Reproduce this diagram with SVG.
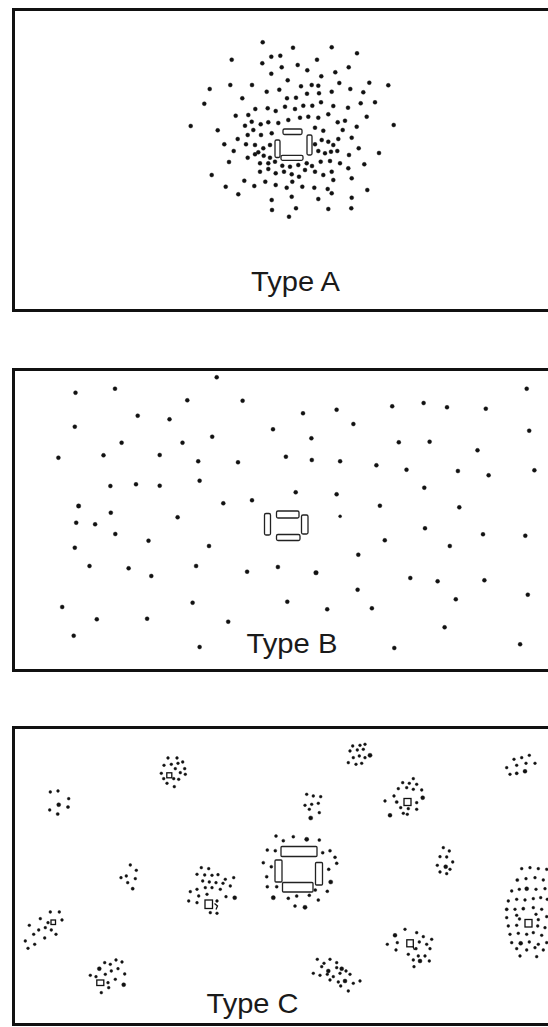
<svg xmlns="http://www.w3.org/2000/svg" width="548" height="1027" viewBox="0 0 548 1027">
<style>
.frame{fill:#fff;stroke:#111;stroke-width:3}
.lbl{font-family:"Liberation Sans",Arial,Helvetica,sans-serif;font-size:28px;fill:#1a1a1a}
.d circle{fill:#111;stroke:#111;stroke-width:0.4}
.dev rect{fill:#fff;stroke:#222;stroke-width:1.3}
.sq{fill:none;stroke:#111;stroke-width:1.3}
</style>
<rect width="548" height="1027" fill="#fff"/>

<g id="panelA">
<rect class="frame" x="13.5" y="9.5" width="560" height="301"/>
<g class="d">
<circle cx="262.7" cy="42.3" r="2"/><circle cx="293" cy="47.7" r="2"/><circle cx="331.7" cy="47.3" r="2"/><circle cx="357" cy="53.3" r="2"/>
<circle cx="231.7" cy="59.7" r="2"/><circle cx="271.3" cy="56.7" r="2"/><circle cx="280.3" cy="55.7" r="2"/><circle cx="262.3" cy="63.3" r="2"/>
<circle cx="317" cy="59.7" r="2"/><circle cx="281.7" cy="67.3" r="2"/><circle cx="297.7" cy="65" r="2"/><circle cx="307.3" cy="70.3" r="2"/>
<circle cx="348.7" cy="67.3" r="2"/><circle cx="271.3" cy="73.7" r="2"/><circle cx="335.3" cy="72.3" r="2"/><circle cx="321.3" cy="76.3" r="2"/>
<circle cx="287.7" cy="80.3" r="2"/><circle cx="209.7" cy="89" r="2"/><circle cx="230.3" cy="85" r="2"/><circle cx="252" cy="85" r="2"/>
<circle cx="266.7" cy="91.7" r="2"/><circle cx="279.3" cy="89.7" r="2"/><circle cx="301" cy="86.3" r="2"/><circle cx="311.7" cy="85" r="2"/>
<circle cx="318.3" cy="85.7" r="2"/><circle cx="339.3" cy="83" r="2"/><circle cx="350.3" cy="89" r="2"/><circle cx="363.3" cy="92.3" r="2"/>
<circle cx="369.3" cy="82.7" r="2"/><circle cx="388.3" cy="85.3" r="2"/><circle cx="204.3" cy="103.7" r="2"/><circle cx="242.3" cy="98.3" r="2"/>
<circle cx="287" cy="98.3" r="2"/><circle cx="296" cy="97.7" r="2"/><circle cx="307" cy="93.7" r="2"/><circle cx="319" cy="93.3" r="2"/>
<circle cx="331.7" cy="91.7" r="2"/><circle cx="360.7" cy="103.3" r="2"/><circle cx="375" cy="102.3" r="2"/><circle cx="235.7" cy="115.7" r="2"/>
<circle cx="248.3" cy="115" r="2"/><circle cx="255.3" cy="109" r="2"/><circle cx="267.7" cy="108.3" r="2"/><circle cx="275.7" cy="111" r="2"/>
<circle cx="285" cy="106.7" r="2"/><circle cx="295" cy="109" r="2"/><circle cx="303.3" cy="105.7" r="2"/><circle cx="312.3" cy="105.7" r="2"/>
<circle cx="321" cy="102.3" r="2"/><circle cx="333.3" cy="106" r="2"/><circle cx="348" cy="107.7" r="2"/><circle cx="366.7" cy="116.7" r="2"/>
<circle cx="190.7" cy="126" r="2"/><circle cx="217.7" cy="130.3" r="2"/><circle cx="245" cy="125.7" r="2"/><circle cx="251.7" cy="121.7" r="2"/>
<circle cx="260.7" cy="124.3" r="2"/><circle cx="268.3" cy="122.3" r="2"/><circle cx="278.3" cy="123" r="2"/><circle cx="288.3" cy="120" r="2"/>
<circle cx="300" cy="117.7" r="2"/><circle cx="308.3" cy="116.7" r="2"/><circle cx="318.3" cy="117.7" r="2"/><circle cx="328.3" cy="114.3" r="2"/>
<circle cx="337.7" cy="122.3" r="2"/><circle cx="345" cy="120.7" r="2"/><circle cx="356.7" cy="126.7" r="2"/><circle cx="393.7" cy="125" r="2"/>
<circle cx="224.3" cy="144.3" r="2"/><circle cx="237.7" cy="139" r="2"/><circle cx="247.7" cy="135" r="2"/><circle cx="253.3" cy="130" r="2"/>
<circle cx="261" cy="135" r="2"/><circle cx="271.7" cy="133.3" r="2"/><circle cx="315" cy="127.7" r="2"/><circle cx="323.3" cy="130.7" r="2"/>
<circle cx="342.7" cy="130" r="2"/><circle cx="351.7" cy="137.7" r="2"/><circle cx="233.7" cy="151" r="2"/><circle cx="246" cy="144.3" r="2"/>
<circle cx="255" cy="145" r="2"/><circle cx="263.3" cy="148.3" r="2"/><circle cx="258.3" cy="152.3" r="2"/><circle cx="270" cy="145" r="2"/>
<circle cx="315" cy="144.3" r="2"/><circle cx="321.7" cy="140" r="2"/><circle cx="328.3" cy="141.7" r="2"/><circle cx="333.3" cy="145" r="2"/>
<circle cx="338.3" cy="139" r="2"/><circle cx="229" cy="162" r="2"/><circle cx="247.7" cy="157.7" r="2"/><circle cx="255" cy="154.3" r="2"/>
<circle cx="263.7" cy="155.7" r="2"/><circle cx="270" cy="157.7" r="2"/><circle cx="318.3" cy="151" r="2"/><circle cx="325" cy="153.3" r="2"/>
<circle cx="331" cy="151.7" r="2"/><circle cx="337.3" cy="151" r="2"/><circle cx="349" cy="155" r="2"/><circle cx="358.7" cy="148.3" r="2"/>
<circle cx="379" cy="153" r="2"/><circle cx="260" cy="163.3" r="2"/><circle cx="268.3" cy="163.3" r="2"/><circle cx="275" cy="161.7" r="2"/>
<circle cx="282.3" cy="165.7" r="2"/><circle cx="290" cy="166.7" r="2"/><circle cx="298.3" cy="165" r="2"/><circle cx="306.7" cy="163.3" r="2"/>
<circle cx="312" cy="166" r="2"/><circle cx="320.7" cy="161.7" r="2"/><circle cx="330" cy="161" r="2"/><circle cx="340" cy="163.3" r="2"/>
<circle cx="348.3" cy="168.3" r="2"/><circle cx="364.3" cy="164.3" r="2"/><circle cx="211.7" cy="175" r="2"/><circle cx="260" cy="171.7" r="2"/>
<circle cx="268.3" cy="169" r="2"/><circle cx="275.7" cy="173.3" r="2"/><circle cx="284" cy="171.7" r="2"/><circle cx="291.7" cy="174.3" r="2"/>
<circle cx="299" cy="176.7" r="2"/><circle cx="305" cy="170" r="2"/><circle cx="315" cy="171.7" r="2"/><circle cx="323.3" cy="175" r="2"/>
<circle cx="331.7" cy="171.7" r="2"/><circle cx="225.7" cy="186.7" r="2"/><circle cx="244.3" cy="180.7" r="2"/><circle cx="254.3" cy="186" r="2"/>
<circle cx="265.3" cy="181.7" r="2"/><circle cx="275.7" cy="185" r="2"/><circle cx="286.7" cy="187.7" r="2"/><circle cx="292.3" cy="181.7" r="2"/>
<circle cx="302.3" cy="186.7" r="2"/><circle cx="314.3" cy="187.7" r="2"/><circle cx="327.7" cy="189" r="2"/><circle cx="333.3" cy="180" r="2"/>
<circle cx="351.7" cy="178.3" r="2"/><circle cx="238.3" cy="194.3" r="2"/><circle cx="271.7" cy="200" r="2"/><circle cx="291.7" cy="196.7" r="2"/>
<circle cx="318.3" cy="199" r="2"/><circle cx="331.7" cy="193.3" r="2"/><circle cx="351.7" cy="197.7" r="2"/><circle cx="367.3" cy="190" r="2"/>
<circle cx="272" cy="210" r="2"/><circle cx="296" cy="208.3" r="2"/><circle cx="328.3" cy="209" r="2"/><circle cx="351.3" cy="208.3" r="2"/>
<circle cx="289" cy="216.7" r="2"/>
</g>
<g id="deviceA" class="dev">
<rect x="283" y="129" width="19" height="5.5" rx="1.5"/>
<rect x="275" y="140" width="5" height="17.5" rx="1.5"/>
<rect x="307" y="135" width="5" height="20" rx="1.5"/>
<rect x="281" y="155.3" width="22" height="5" rx="1.5"/>
</g>
<text class="lbl" x="251" y="291" textLength="89" lengthAdjust="spacingAndGlyphs">Type A</text>
</g>

<g id="panelB">
<rect class="frame" x="13.5" y="369.5" width="560" height="301"/>
<g class="d">
<circle cx="75.5" cy="392.7" r="2"/><circle cx="115" cy="388.7" r="2"/><circle cx="216.7" cy="377.3" r="2"/><circle cx="187.3" cy="400.3" r="2"/>
<circle cx="242.6" cy="400.7" r="2"/><circle cx="137.7" cy="415.7" r="2"/><circle cx="169.5" cy="419.3" r="2"/><circle cx="303" cy="413.3" r="2"/>
<circle cx="336.6" cy="409.7" r="2"/><circle cx="392.2" cy="406.3" r="2"/><circle cx="423.6" cy="403" r="2"/><circle cx="447" cy="407.3" r="2"/>
<circle cx="485.8" cy="408.7" r="2"/><circle cx="526.7" cy="388.7" r="2"/><circle cx="74.8" cy="426.7" r="2"/><circle cx="273" cy="429.3" r="2"/>
<circle cx="353.4" cy="424" r="2"/><circle cx="212.2" cy="436.7" r="2"/><circle cx="311.4" cy="438.3" r="2"/><circle cx="529.2" cy="430.7" r="2"/>
<circle cx="121.6" cy="442.7" r="2"/><circle cx="182.5" cy="442.7" r="2"/><circle cx="398.8" cy="442.3" r="2"/><circle cx="429.6" cy="441.7" r="2"/>
<circle cx="477.5" cy="450.3" r="2"/><circle cx="58.4" cy="457.7" r="2"/><circle cx="103.5" cy="455.3" r="2"/><circle cx="159.7" cy="455" r="2"/>
<circle cx="198.2" cy="461.3" r="2"/><circle cx="238" cy="462.3" r="2"/><circle cx="285.9" cy="456.7" r="2"/><circle cx="311.8" cy="460" r="2"/>
<circle cx="340.1" cy="461.3" r="2"/><circle cx="376.4" cy="465.3" r="2"/><circle cx="406.5" cy="469.7" r="2"/><circle cx="457.9" cy="471" r="2"/>
<circle cx="488.6" cy="475.3" r="2"/><circle cx="534.4" cy="470.3" r="2"/><circle cx="110.4" cy="486" r="2"/><circle cx="136" cy="484.3" r="2"/>
<circle cx="159.7" cy="485.7" r="2"/><circle cx="199.6" cy="480.7" r="2"/><circle cx="424.3" cy="487.7" r="2"/><circle cx="295.7" cy="492.3" r="2"/>
<circle cx="336.6" cy="494.3" r="2"/><circle cx="223.3" cy="503.3" r="2"/><circle cx="252" cy="500.3" r="2"/><circle cx="379.9" cy="505.7" r="2"/>
<circle cx="459.3" cy="507.3" r="2"/><circle cx="78.6" cy="506" r="2.2"/><circle cx="110.8" cy="512.7" r="2"/><circle cx="76.2" cy="522.7" r="2"/>
<circle cx="95.1" cy="524.3" r="2"/><circle cx="177.6" cy="517.3" r="2"/><circle cx="340.1" cy="516.3" r="1.5"/><circle cx="425" cy="528.3" r="2"/>
<circle cx="483" cy="534.3" r="2"/><circle cx="525.3" cy="535.7" r="2"/><circle cx="115.3" cy="534" r="2"/><circle cx="148.5" cy="540.7" r="2"/>
<circle cx="74.8" cy="547.7" r="2"/><circle cx="209" cy="546" r="2"/><circle cx="384.8" cy="540.3" r="2"/><circle cx="449.8" cy="546" r="2"/>
<circle cx="358.3" cy="554.7" r="2"/><circle cx="89.5" cy="566" r="2"/><circle cx="128.6" cy="568.3" r="2"/><circle cx="151.3" cy="576" r="2"/>
<circle cx="196.1" cy="566" r="2"/><circle cx="247.1" cy="571.7" r="2"/><circle cx="277.9" cy="567" r="2"/><circle cx="316" cy="572.7" r="2.3"/>
<circle cx="410.3" cy="578" r="2"/><circle cx="437.6" cy="581.3" r="2"/><circle cx="484.4" cy="580.3" r="2"/><circle cx="357.6" cy="589.7" r="2"/>
<circle cx="455.8" cy="599.3" r="2"/><circle cx="527.8" cy="594.7" r="2"/><circle cx="62.2" cy="607" r="2"/><circle cx="192.6" cy="602.7" r="2"/>
<circle cx="287.3" cy="601.7" r="2"/><circle cx="327.2" cy="609.3" r="2"/><circle cx="371.9" cy="608.3" r="2"/><circle cx="96.8" cy="619.3" r="2"/>
<circle cx="147.1" cy="618.7" r="2"/><circle cx="228.2" cy="621.7" r="2"/><circle cx="444.6" cy="627.3" r="2"/><circle cx="73.7" cy="635.7" r="2"/>
<circle cx="199.6" cy="647" r="2"/><circle cx="394.3" cy="648" r="2"/><circle cx="520.1" cy="644.3" r="2"/>
</g>
<g id="deviceB" class="dev">
<rect x="276.5" y="511" width="22.5" height="7" rx="1.5"/>
<rect x="264.5" y="513.5" width="6" height="21.5" rx="1.5"/>
<rect x="301.5" y="515" width="6.5" height="19" rx="1.5"/>
<rect x="276.5" y="534.5" width="23.5" height="6" rx="1.5"/>
</g>
<text class="lbl" x="246.5" y="653" textLength="91" lengthAdjust="spacingAndGlyphs">Type B</text>
</g>

<g id="panelC">
<rect class="frame" x="13.5" y="727.5" width="560" height="297"/>
<g id="clusterC1" class="d">
<circle cx="168" cy="758" r="1.4"/><circle cx="177" cy="758" r="1.4"/><circle cx="164" cy="765.3" r="1.4"/><circle cx="171.3" cy="764.3" r="1.4"/>
<circle cx="178" cy="763.3" r="1.4"/><circle cx="182.7" cy="762" r="1.4"/><circle cx="184.7" cy="768.7" r="1.4"/><circle cx="161.3" cy="773.3" r="1.4"/>
<circle cx="175.3" cy="768.7" r="1.4"/><circle cx="180.3" cy="772.7" r="1.4"/><circle cx="185.3" cy="774.3" r="1.4"/><circle cx="163.7" cy="778.7" r="1.4"/>
<circle cx="173.7" cy="778.7" r="1.4"/><circle cx="178.7" cy="779.3" r="1.4"/><circle cx="167" cy="783.3" r="1.4"/><circle cx="174.3" cy="786.7" r="1.4"/>
<rect class="sq" x="166.8" y="772.8" width="5" height="5"/>
</g>
<g id="clusterC2" class="d">
<circle cx="50.3" cy="792" r="1.4"/><circle cx="58" cy="791" r="1.4"/><circle cx="68.7" cy="798.7" r="1.4"/><circle cx="58.7" cy="804.7" r="2"/>
<circle cx="68" cy="807" r="1.6"/><circle cx="49.7" cy="810" r="1.4"/><circle cx="57.7" cy="814" r="1.6"/>
</g>
<g id="clusterC3" class="d">
<circle cx="130.3" cy="865" r="1.4"/><circle cx="136.3" cy="870.3" r="1.4"/><circle cx="121" cy="877.7" r="1.4"/><circle cx="126.3" cy="876" r="1.4"/>
<circle cx="135.3" cy="878.7" r="1.4"/><circle cx="127.7" cy="882.7" r="1.4"/><circle cx="132.7" cy="888.7" r="1.6"/>
</g>
<g id="clusterC4" class="d">
<circle cx="50.3" cy="912" r="1.4"/><circle cx="59.3" cy="912" r="1.4"/><circle cx="40.3" cy="918.7" r="1.4"/><circle cx="48" cy="922.7" r="1.4"/>
<circle cx="62" cy="920" r="1.4"/><circle cx="29.3" cy="925.3" r="1.4"/><circle cx="38.7" cy="930" r="1.4"/><circle cx="45.3" cy="927.7" r="1.4"/>
<circle cx="51.3" cy="930" r="1.4"/><circle cx="56" cy="934.3" r="1.4"/><circle cx="33.7" cy="934.3" r="1.4"/><circle cx="25.3" cy="941" r="1.4"/>
<circle cx="34.7" cy="944.3" r="1.4"/><circle cx="44.7" cy="938" r="1.4"/><circle cx="28" cy="948.3" r="1.4"/>
<rect class="sq" x="51" y="920" width="4.5" height="4.5"/>
</g>
<g id="clusterC5" class="d">
<circle cx="116" cy="960" r="1.4"/><circle cx="122" cy="962" r="1.4"/><circle cx="104.7" cy="962.7" r="1.4"/><circle cx="110.3" cy="964.3" r="1.4"/>
<circle cx="99.3" cy="968.7" r="2"/><circle cx="118" cy="968.7" r="1.4"/><circle cx="124.7" cy="974" r="1.4"/><circle cx="111.3" cy="971" r="1.4"/>
<circle cx="105.3" cy="974.3" r="1.4"/><circle cx="90.3" cy="975.3" r="1.4"/><circle cx="96" cy="976.7" r="1.4"/><circle cx="115.3" cy="979.3" r="1.4"/>
<circle cx="108" cy="982.7" r="1.4"/><circle cx="123.7" cy="984.7" r="2"/><circle cx="108.7" cy="987.7" r="1.4"/><circle cx="101.3" cy="992.7" r="1.4"/>
<rect class="sq" x="96.8" y="980" width="7" height="5.5"/>
</g>
<g id="clusterC6" class="d">
<circle cx="201.3" cy="867.7" r="1.4"/><circle cx="208.7" cy="868.7" r="1.4"/><circle cx="197" cy="874.3" r="1.4"/><circle cx="204.7" cy="875" r="1.4"/>
<circle cx="212" cy="875.3" r="1.4"/><circle cx="218" cy="874.7" r="1.4"/><circle cx="225.3" cy="879.3" r="1.4"/><circle cx="233.7" cy="877.7" r="1.4"/>
<circle cx="202.7" cy="881" r="1.4"/><circle cx="209.3" cy="882" r="1.4"/><circle cx="216" cy="882.7" r="1.4"/><circle cx="223" cy="883.3" r="1.4"/>
<circle cx="197" cy="889.3" r="1.4"/><circle cx="205.3" cy="887.7" r="1.4"/><circle cx="212" cy="887.7" r="1.4"/><circle cx="220.3" cy="889.3" r="1.4"/>
<circle cx="230.3" cy="886" r="1.4"/><circle cx="190.3" cy="891.7" r="1.4"/><circle cx="198.7" cy="896" r="1.4"/><circle cx="207" cy="894.3" r="1.4"/>
<circle cx="226" cy="896.7" r="1.4"/><circle cx="234.7" cy="897.7" r="2"/><circle cx="188.7" cy="901" r="1.4"/><circle cx="197" cy="902.7" r="1.4"/>
<circle cx="217" cy="901" r="1.4"/><circle cx="210.3" cy="912.7" r="1.4"/><circle cx="217" cy="913.3" r="1.4"/>
<rect class="sq" x="205" y="900" width="7.5" height="8.5"/>
<path class="sq" d="M214.5 903.5 L217.5 906 L216 909.5"/>
</g>
<g id="clusterC7" class="d">
<circle cx="276" cy="836" r="1.5"/><circle cx="283.3" cy="840.7" r="1.5"/><circle cx="293.3" cy="836.7" r="1.5"/><circle cx="306.7" cy="839.3" r="2.1"/>
<circle cx="319.3" cy="840" r="1.5"/><circle cx="267.3" cy="850" r="1.5"/><circle cx="275.3" cy="850.7" r="1.5"/><circle cx="322.7" cy="852.7" r="1.5"/>
<circle cx="330" cy="850.7" r="1.5"/><circle cx="335" cy="857.3" r="1.5"/><circle cx="263.3" cy="862.7" r="1.5"/><circle cx="271.3" cy="866.7" r="1.5"/>
<circle cx="328.7" cy="869.3" r="1.5"/><circle cx="336.7" cy="863.3" r="1.5"/><circle cx="266.7" cy="876.7" r="1.5"/><circle cx="276.7" cy="876" r="1.5"/>
<circle cx="330.7" cy="882" r="2.1"/><circle cx="267.3" cy="886.7" r="1.5"/><circle cx="276.7" cy="886.7" r="1.5"/><circle cx="327.3" cy="891.3" r="1.5"/>
<circle cx="315.3" cy="890" r="1.5"/><circle cx="273.3" cy="897.7" r="2.1"/><circle cx="288.3" cy="898.3" r="1.5"/><circle cx="296.7" cy="896" r="1.5"/>
<circle cx="309.3" cy="895.3" r="1.5"/><circle cx="318.3" cy="900" r="1.5"/><circle cx="295" cy="906" r="1.5"/><circle cx="305" cy="907.3" r="2.1"/>
</g>
<g id="deviceC" class="dev">
<rect x="281" y="846.5" width="36" height="10" rx="1"/>
<rect x="275" y="860" width="7" height="22" rx="1"/>
<rect x="315.5" y="862.5" width="7" height="22.5" rx="1"/>
<rect x="282.5" y="882.5" width="30.5" height="9.5" rx="1"/>
</g>
<g id="clusterC8" class="d">
<circle cx="352.7" cy="746" r="1.4"/><circle cx="360" cy="745.3" r="1.4"/><circle cx="365" cy="744.3" r="1.4"/><circle cx="350" cy="751" r="1.4"/>
<circle cx="357.3" cy="750" r="1.4"/><circle cx="363.3" cy="749.3" r="1.4"/><circle cx="370" cy="755.3" r="2.1"/><circle cx="353.3" cy="757.7" r="1.4"/>
<circle cx="359.3" cy="756" r="1.4"/><circle cx="365" cy="757.7" r="1.4"/><circle cx="348.3" cy="762.7" r="1.4"/><circle cx="356" cy="764.3" r="1.4"/>
<circle cx="361.7" cy="763.3" r="1.4"/>
</g>
<g id="clusterC9" class="d">
<circle cx="306.7" cy="794.3" r="1.4"/><circle cx="313.3" cy="796" r="1.4"/><circle cx="320.7" cy="796.7" r="1.4"/><circle cx="305" cy="805.3" r="1.4"/>
<circle cx="311.7" cy="804.3" r="1.4"/><circle cx="318.3" cy="803.3" r="1.4"/><circle cx="309.3" cy="809.3" r="1.4"/><circle cx="319.3" cy="812.7" r="1.4"/>
<circle cx="310.7" cy="818" r="2.1"/>
</g>
<g id="clusterC10" class="d">
<circle cx="413.3" cy="778.7" r="1.4"/><circle cx="402.7" cy="782.7" r="1.4"/><circle cx="409.3" cy="783.3" r="1.4"/><circle cx="416.7" cy="784.3" r="1.4"/>
<circle cx="398.3" cy="788.7" r="1.4"/><circle cx="406.7" cy="787.7" r="1.4"/><circle cx="413.3" cy="789.3" r="1.4"/><circle cx="421.7" cy="790" r="1.4"/>
<circle cx="394" cy="796" r="1.4"/><circle cx="422.7" cy="797.7" r="2"/><circle cx="385" cy="801" r="1.4"/><circle cx="396.7" cy="802" r="1.6"/>
<circle cx="416.7" cy="802.7" r="1.4"/><circle cx="400.7" cy="807.7" r="1.4"/><circle cx="408.3" cy="808.7" r="1.4"/><circle cx="416.7" cy="809.3" r="1.4"/>
<circle cx="390" cy="815.3" r="2"/><circle cx="403.3" cy="813.3" r="1.4"/><circle cx="407.3" cy="814.3" r="1.4"/>
<rect class="sq" x="404" y="798.5" width="7" height="7"/>
</g>
<g id="clusterC11" class="d">
<circle cx="514" cy="759.3" r="1.4"/><circle cx="521.7" cy="757.7" r="1.4"/><circle cx="529.3" cy="755.3" r="1.4"/><circle cx="506.7" cy="767.7" r="1.4"/>
<circle cx="516.7" cy="765.3" r="1.4"/><circle cx="526" cy="763.3" r="1.4"/><circle cx="535" cy="763.3" r="1.4"/><circle cx="510" cy="774.3" r="1.4"/>
<circle cx="516.7" cy="773.3" r="1.6"/><circle cx="525" cy="771.3" r="2"/>
</g>
<g id="clusterC12" class="d">
<circle cx="443.3" cy="847.7" r="1.4"/><circle cx="449.3" cy="851" r="1.4"/><circle cx="440" cy="856.7" r="1.4"/><circle cx="446.7" cy="857" r="1.4"/>
<circle cx="452.7" cy="862" r="1.4"/><circle cx="437.3" cy="865.3" r="1.4"/><circle cx="445.7" cy="866.7" r="2"/><circle cx="450" cy="869.3" r="1.4"/>
<circle cx="440" cy="872" r="1.4"/><circle cx="446.7" cy="873.7" r="1.4"/>
</g>
<g id="clusterC13" class="d">
<circle cx="405" cy="929.3" r="1.4"/><circle cx="416.7" cy="932.7" r="1.4"/><circle cx="395" cy="935.3" r="2"/><circle cx="423.3" cy="936.7" r="1.4"/>
<circle cx="431.7" cy="939.3" r="1.4"/><circle cx="387.3" cy="944.3" r="1.4"/><circle cx="397.3" cy="942.7" r="1.4"/><circle cx="419.3" cy="942" r="1.4"/>
<circle cx="426.7" cy="944.3" r="1.4"/><circle cx="416" cy="948.7" r="1.4"/><circle cx="430" cy="948.7" r="1.4"/><circle cx="396" cy="950" r="1.4"/>
<circle cx="408.3" cy="954.3" r="1.4"/><circle cx="418.3" cy="956" r="1.4"/><circle cx="425" cy="956" r="1.4"/><circle cx="413.3" cy="960" r="1.4"/>
<circle cx="420" cy="961" r="2"/><circle cx="429.3" cy="961" r="1.4"/><circle cx="414" cy="966.7" r="1.4"/>
<rect class="sq" x="406.8" y="939.8" width="6.5" height="7"/>
<path class="sq" d="M413 946.5 L414.5 950"/>
</g>
<g id="clusterC14" class="d">
<circle cx="317.3" cy="959.3" r="1.4"/><circle cx="324" cy="963.3" r="1.4"/><circle cx="330" cy="959.3" r="1.4"/><circle cx="336.7" cy="962.7" r="1.4"/>
<circle cx="321.7" cy="966.7" r="1.4"/><circle cx="328.3" cy="971" r="2"/><circle cx="336.7" cy="967.7" r="1.4"/><circle cx="341.7" cy="968.7" r="2"/>
<circle cx="346" cy="971" r="1.4"/><circle cx="313.3" cy="973.3" r="1.4"/><circle cx="320" cy="975.3" r="1.4"/><circle cx="327.3" cy="974.3" r="1.4"/>
<circle cx="333.3" cy="976.7" r="1.4"/><circle cx="340" cy="973.3" r="1.4"/><circle cx="350" cy="974.3" r="1.4"/><circle cx="330" cy="980" r="1.4"/>
<circle cx="338.3" cy="982" r="1.4"/><circle cx="345" cy="981" r="2"/><circle cx="353.3" cy="983.3" r="1.4"/><circle cx="360" cy="981" r="1.4"/>
<circle cx="340.7" cy="986" r="1.4"/><circle cx="348.3" cy="991" r="1.4"/>
</g>
<g id="clusterC15" class="d">
<circle cx="521.7" cy="868.7" r="1.4"/><circle cx="530" cy="867.7" r="1.4"/><circle cx="538.3" cy="868.7" r="1.4"/><circle cx="546.7" cy="869.3" r="1.4"/>
<circle cx="517.3" cy="880" r="1.6"/><circle cx="526" cy="878.7" r="1.4"/><circle cx="535" cy="877.7" r="1.4"/><circle cx="543.3" cy="880" r="1.4"/>
<circle cx="511.7" cy="891" r="1.4"/><circle cx="519.3" cy="889.3" r="1.4"/><circle cx="526.7" cy="888.7" r="2"/><circle cx="536" cy="889.3" r="1.4"/>
<circle cx="545" cy="888.7" r="1.4"/><circle cx="508.3" cy="901" r="1.4"/><circle cx="516.7" cy="899.3" r="1.4"/><circle cx="525" cy="900" r="1.4"/>
<circle cx="533.3" cy="898.7" r="1.4"/><circle cx="540.7" cy="897.7" r="1.4"/><circle cx="547.3" cy="899.3" r="1.4"/><circle cx="506.7" cy="909.3" r="1.6"/>
<circle cx="515" cy="909.3" r="1.4"/><circle cx="523.3" cy="908.7" r="1.6"/><circle cx="533.3" cy="907.7" r="1.4"/><circle cx="541.7" cy="909.3" r="1.4"/>
<circle cx="506.7" cy="917.7" r="1.4"/><circle cx="516.7" cy="915.3" r="1.4"/><circle cx="519.5" cy="919" r="1.4"/><circle cx="536" cy="914.3" r="1.4"/>
<circle cx="538.3" cy="919.7" r="1.4"/><circle cx="546.7" cy="916.7" r="1.4"/><circle cx="508.3" cy="926" r="1.4"/><circle cx="516.7" cy="925.3" r="1.4"/>
<circle cx="537.7" cy="926" r="1.4"/><circle cx="545" cy="927.7" r="1.4"/><circle cx="510" cy="934.3" r="1.4"/><circle cx="518.3" cy="933.3" r="1.4"/>
<circle cx="526.7" cy="934.3" r="1.4"/><circle cx="533.3" cy="932.7" r="1.4"/><circle cx="541.7" cy="935.3" r="1.4"/><circle cx="511.7" cy="942.7" r="1.4"/>
<circle cx="520.7" cy="943.3" r="2"/><circle cx="529.3" cy="942" r="1.4"/><circle cx="538.3" cy="944.3" r="1.4"/><circle cx="546.7" cy="942.7" r="1.4"/>
<circle cx="516.7" cy="948.7" r="1.4"/><circle cx="526.7" cy="950" r="1.4"/><circle cx="535" cy="947.7" r="1.4"/><circle cx="543.3" cy="950" r="1.4"/>
<circle cx="520" cy="956" r="1.4"/><circle cx="536.7" cy="956.7" r="1.4"/>
<rect class="sq" x="525" y="919.5" width="7" height="7.5"/>
</g>
<text class="lbl" x="206.5" y="1013" textLength="92" lengthAdjust="spacingAndGlyphs">Type C</text>
</g>
</svg>
